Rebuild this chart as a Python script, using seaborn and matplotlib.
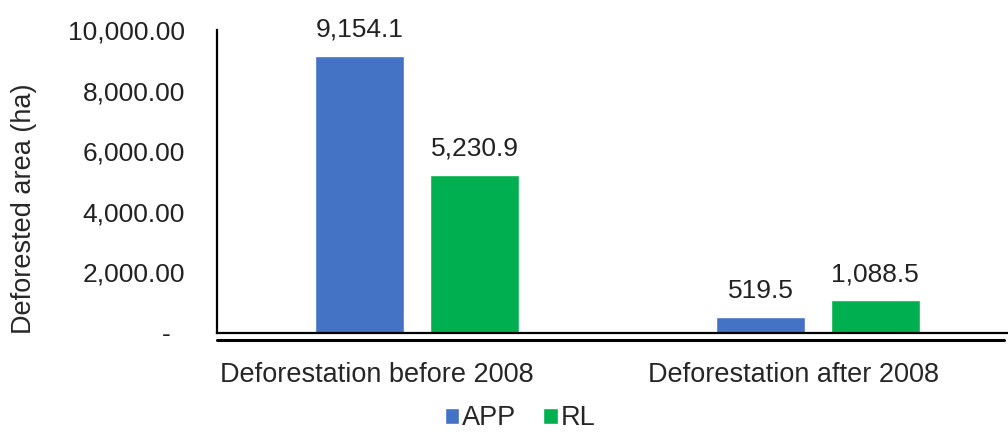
import matplotlib
matplotlib.use("Agg")
import matplotlib.pyplot as plt
import matplotlib.transforms as mtransforms
from matplotlib.lines import Line2D
import seaborn as sns
import pandas as pd

# Data
periods = ["Deforestation before 2008", "Deforestation after 2008"]
groups = ["APP", "RL"]
app_area = [9154.1, 519.5]
rl_area = [5230.9, 1088.5]
y_ticks = [0, 2000, 4000, 6000, 8000, 10000]
y_tick_labels = ["-  ", "2,000.00", "4,000.00", "6,000.00", "8,000.00", "10,000.00"]

df = pd.DataFrame({
    "period": periods * 2,
    "group": [groups[0]] * len(periods) + [groups[1]] * len(periods),
    "area": app_area + rl_area,
})

sns.set_style("white")
plt.rcParams["font.family"] = ["Liberation Sans", "DejaVu Sans"]

fig = plt.figure(figsize=(10.08, 4.34), dpi=100)
ax = fig.add_axes([217 / 1008, 101 / 434, 791 / 1008, 303 / 434])

palette = ["#4472C4", "#00B050"]
sns.barplot(data=df, x="period", y="area", hue="group", hue_order=groups,
            palette=palette, width=0.572, gap=0.223, saturation=1,
            ax=ax, legend=True)

ax.set_xlim(-0.5, 1.475)
ax.set_ylim(0, 10000)
ax.set_yticks(y_ticks)
ax.set_yticklabels(y_tick_labels)
ax.set_xlabel("")
ax.set_ylabel("Deforested area (ha)", fontsize=19.5)
ax.yaxis.set_label_coords(-0.228, 0.41)

ax.tick_params(axis="y", length=0, pad=23, labelsize=19, labelcolor="#222222")
ax.tick_params(axis="x", length=0, pad=21, labelsize=19.5)

# shift category labels slightly left
for lbl, dx in zip(ax.get_xticklabels(), [-40, -24]):
    lbl.set_transform(lbl.get_transform() +
                      mtransforms.ScaledTranslation(dx / 100, 0, fig.dpi_scale_trans))

for side in ["top", "right"]:
    ax.spines[side].set_visible(False)
for side in ["left", "bottom"]:
    ax.spines[side].set_color("black")
    ax.spines[side].set_linewidth(1.6)

# value labels
for container in ax.containers:
    ax.bar_label(container, labels=[f"{v:,.1f}" for v in container.datavalues],
                 padding=10, fontsize=19, color="#222222")

# double rule under the baseline
ax.add_line(Line2D([0, 0.995], [-0.023, -0.023], transform=ax.transAxes,
                   color="black", linewidth=2.2, clip_on=False))

leg = ax.legend(loc="center", bbox_to_anchor=(0.516, 0.036),
                bbox_transform=fig.transFigure, ncol=2, frameon=False,
                fontsize=19.5, handlelength=0.55, handleheight=0.55,
                handletextpad=0.1, columnspacing=1.0, borderpad=0.2)

fig.savefig("out.png", dpi=100, facecolor="white")
